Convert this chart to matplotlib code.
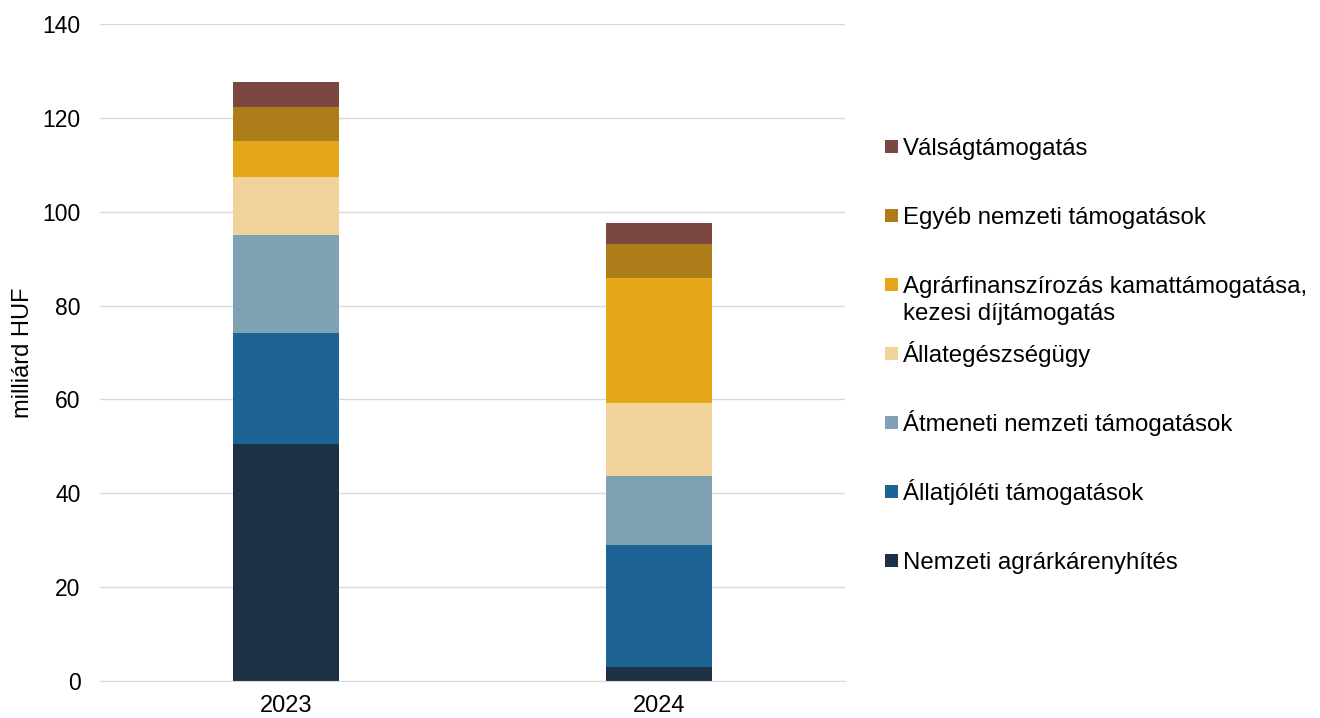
import matplotlib
matplotlib.use('Agg')
import matplotlib.pyplot as plt
import matplotlib.patches as patches
import numpy as np

plt.rcParams['font.family'] = ['Liberation Sans', 'DejaVu Sans']

years = ["2023", "2024"]
# bottom to top
series = [
    "Nemzeti agrárkárenyhítés",
    "Állatjóléti támogatások",
    "Átmeneti nemzeti támogatások",
    "Állategészségügy",
    "Agrárfinanszírozás kamattámogatása,\nkezesi díjtámogatás",
    "Egyéb nemzeti támogatások",
    "Válságtámogatás",
]
values = [
    [50.6, 3.0],
    [23.6, 26.0],
    [20.9, 14.6],
    [12.2, 15.7],
    [7.8, 26.6],
    [7.2, 7.2],
    [5.3, 4.6],
]
colors = ["#1C3145", "#1D6494", "#7FA1B4", "#F2D29B", "#E6A619", "#AD7D1A", "#7B4740"]

fig = plt.figure(figsize=(13.2, 7.18), dpi=100)
ax = fig.add_axes([100 / 1320, 1 - 681 / 718, 745 / 1320, 657 / 718])

x = np.arange(len(years))
bottom = np.zeros(len(years))
for name, vals, c in zip(series, values, colors):
    ax.bar(x, vals, width=0.285, bottom=bottom, color=c, zorder=2)
    bottom += np.array(vals)

ax.set_xlim(-0.5, 1.5)
ax.set_ylim(0, 140)
ax.set_yticks(range(0, 141, 20))
ax.set_xticks(x)
ax.set_xticklabels(years)
ax.tick_params(axis='both', length=0, colors="#000000")
ax.tick_params(axis='y', pad=14, labelsize=16.5)
ax.tick_params(axis='x', pad=10, labelsize=17)
ax.grid(axis='y', color="#D9D9D9", lw=1, zorder=0)
for s in ['top', 'right', 'left']:
    ax.spines[s].set_visible(False)
ax.spines['bottom'].set_color("#D9D9D9")
ax.set_ylabel("milliárd HUF", fontsize=17)
ax.yaxis.set_label_coords(-0.088, 0.499)

# legend drawn by hand to match evenly spaced slots
legend_order = list(range(len(series)))[::-1]
for i, k in enumerate(legend_order):
    py = 146.5 + 69 * i
    fig.patches.append(patches.Rectangle(
        (885 / 1320, 1 - (py + 6.5) / 718), 13 / 1320, 13 / 718,
        transform=fig.transFigure, facecolor=colors[k], edgecolor='none'))
    for j, line in enumerate(series[k].split("\n")):
        fig.text(903 / 1320, 1 - (py + 8.5 + 27.3 * j) / 718, line, fontsize=17.3,
                 va='baseline', ha='left')

plt.savefig("out.png", dpi=100)
